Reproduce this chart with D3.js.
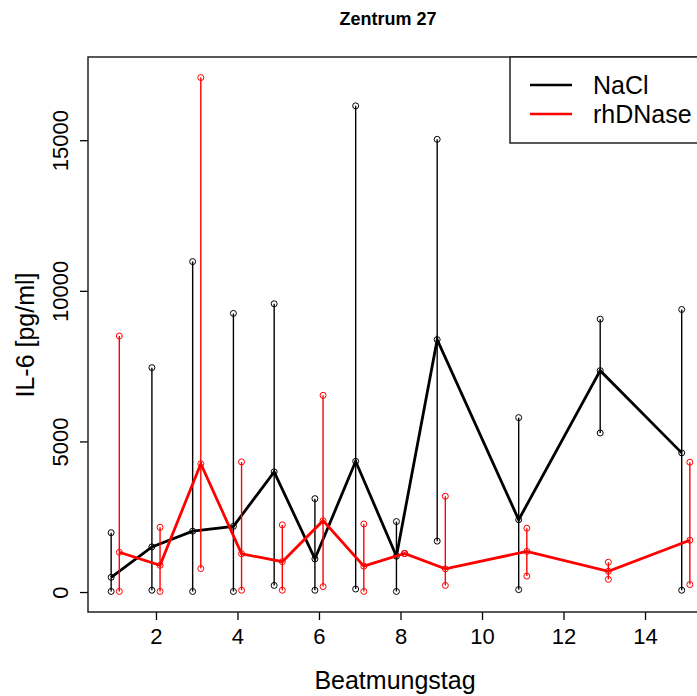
<!DOCTYPE html>
<html>
<head>
<meta charset="utf-8">
<script src="https://cdn.jsdelivr.net/npm/d3@7"></script>
<style>
  body { margin: 0; background: #fff; }
  svg { display: block; font-family: "Liberation Sans", Arial, sans-serif; }
</style>
</head>
<body>
<svg id="graph" width="697" height="696"></svg>
<script>
// Beatmungstag
const days = [1, 2, 3, 4, 5, 6, 7, 8, 9, 11, 13, 15];

// NaCl: min / median / max per day
const naclMin = [20, 60, 20, 20, 220, 60, 100, 20, 1690, 80, 5280, 60];
const naclMed = [490, 1500, 2020, 2180, 3990, 1100, 4340, 1190, 8380, 2400, 7350, 4620];
const naclMax = [1970, 7450, 10970, 9250, 9570, 3100, 16140, 2340, 15030, 5790, 9060, 9380];

// rhDNase: min / median / max per day
const rhMin = [20, 20, 780, 60, 60, 180, 20, 1280, 220, 530, 420, 250];
const rhMed = [1320, 890, 4260, 1270, 1010, 2370, 860, 1280, 770, 1350, 690, 1720];
const rhMax = [8500, 2150, 17080, 4320, 2230, 6530, 2260, 1280, 3180, 2120, 990, 4310];

const xTicks = [2, 4, 6, 8, 10, 12, 14];
const yTicks = [0, 5000, 10000, 15000];
const seriesNames = ["NaCl", "rhDNase"];
const seriesColors = ["#000000", "#ff0000"];
const offsets = [-0.1, 0.1];

const svg = d3.select("#graph");
const box = { left: 88, top: 57, right: 713, bottom: 612 };

// R style 4% padding
const allX = days.flatMap(d => [d - 0.1, d + 0.1]);
const allY = naclMin.concat(naclMax, rhMin, rhMax);
const xr = d3.extent(allX), yr = d3.extent(allY);
const xp = (xr[1] - xr[0]) * 0.04, yp = (yr[1] - yr[0]) * 0.04;

const x = d3.scaleLinear().domain([xr[0] - xp, xr[1] + xp]).range([box.left, box.right]);
const y = d3.scaleLinear().domain([yr[0] - yp, yr[1] + yp]).range([box.bottom, box.top]);

const series = [
    { min: naclMin, med: naclMed, max: naclMax },
    { min: rhMin, med: rhMed, max: rhMax },
];

series.forEach((s, i) => {
    const col = seriesColors[i];
    const g = svg.append("g");
    const rows = days.map((d, j) => ({ x: d + offsets[i], lo: s.min[j], md: s.med[j], hi: s.max[j] }));

    g.selectAll("line.whisk")
        .data(rows)
        .enter()
        .append("line")
        .attr("x1", d => x(d.x))
        .attr("x2", d => x(d.x))
        .attr("y1", d => y(d.lo))
        .attr("y2", d => y(d.hi))
        .attr("stroke", col)
        .attr("stroke-width", 1.4);

    g.append("path")
        .attr("d", d3.line().x(d => x(d.x)).y(d => y(d.md))(rows))
        .attr("stroke", col)
        .attr("fill", "none")
        .attr("stroke-width", 2.8);

    const pts = rows.flatMap(d => [[d.x, d.lo], [d.x, d.md], [d.x, d.hi]]);
    g.selectAll("circle")
        .data(pts)
        .enter()
        .append("circle")
        .attr("cx", d => x(d[0]))
        .attr("cy", d => y(d[1]))
        .attr("r", 3)
        .attr("fill", "none")
        .attr("stroke", col)
        .attr("stroke-width", 1);
});

// axes
const xAxis = svg.append("g")
    .attr("transform", `translate(0,${box.bottom})`)
    .call(d3.axisBottom(x).tickValues(xTicks).tickSize(8).tickPadding(8).tickFormat(d3.format("d")));
xAxis.select(".domain").remove();
xAxis.selectAll("line").attr("stroke", "#000").attr("stroke-width", 1.3);
xAxis.selectAll("text").attr("font-size", 22).attr("fill", "#000").attr("font-family", "Liberation Sans, Arial, sans-serif");

const yAxis = svg.append("g")
    .attr("transform", `translate(${box.left},0)`)
    .call(d3.axisLeft(y).tickValues(yTicks).tickSize(8).tickFormat(d3.format("d")));
yAxis.select(".domain").remove();
yAxis.selectAll("line").attr("stroke", "#000").attr("stroke-width", 1.3);
yAxis.selectAll("text")
    .attr("font-size", 22)
    .attr("fill", "#000")
    .attr("font-family", "Liberation Sans, Arial, sans-serif")
    .attr("x", null)
    .attr("dy", null)
    .attr("text-anchor", "middle")
    .attr("transform", "translate(-20,0) rotate(-90)");

// box
svg.append("rect")
    .attr("x", box.left)
    .attr("y", box.top)
    .attr("width", box.right - box.left)
    .attr("height", box.bottom - box.top)
    .attr("fill", "none")
    .attr("stroke", "#222")
    .attr("stroke-width", 1.5);

// titles
svg.append("text")
    .attr("x", 388)
    .attr("y", 25)
    .attr("text-anchor", "middle")
    .attr("font-weight", "bold")
    .attr("font-size", 18)
    .text("Zentrum 27");

svg.append("text")
    .attr("x", 395)
    .attr("y", 689)
    .attr("text-anchor", "middle")
    .attr("font-size", 25)
    .text("Beatmungstag");

svg.append("text")
    .attr("transform", `translate(34,335) rotate(-90)`)
    .attr("text-anchor", "middle")
    .attr("font-size", 25)
    .text("IL-6 [pg/ml]");

// legend
const leg = svg.append("g");
leg.append("rect")
    .attr("x", 510)
    .attr("y", box.top)
    .attr("width", 220)
    .attr("height", 86)
    .attr("fill", "#fff")
    .attr("stroke", "#222")
    .attr("stroke-width", 1.5);
seriesNames.forEach((name, i) => {
    const ly = 85 + i * 29;
    leg.append("line")
        .attr("x1", 530).attr("x2", 572)
        .attr("y1", ly).attr("y2", ly)
        .attr("stroke", seriesColors[i])
        .attr("stroke-width", 2.5);
    leg.append("text")
        .attr("x", 593)
        .attr("y", ly + 9)
        .attr("font-size", 25)
        .text(name);
});
</script>
</body>
</html>
